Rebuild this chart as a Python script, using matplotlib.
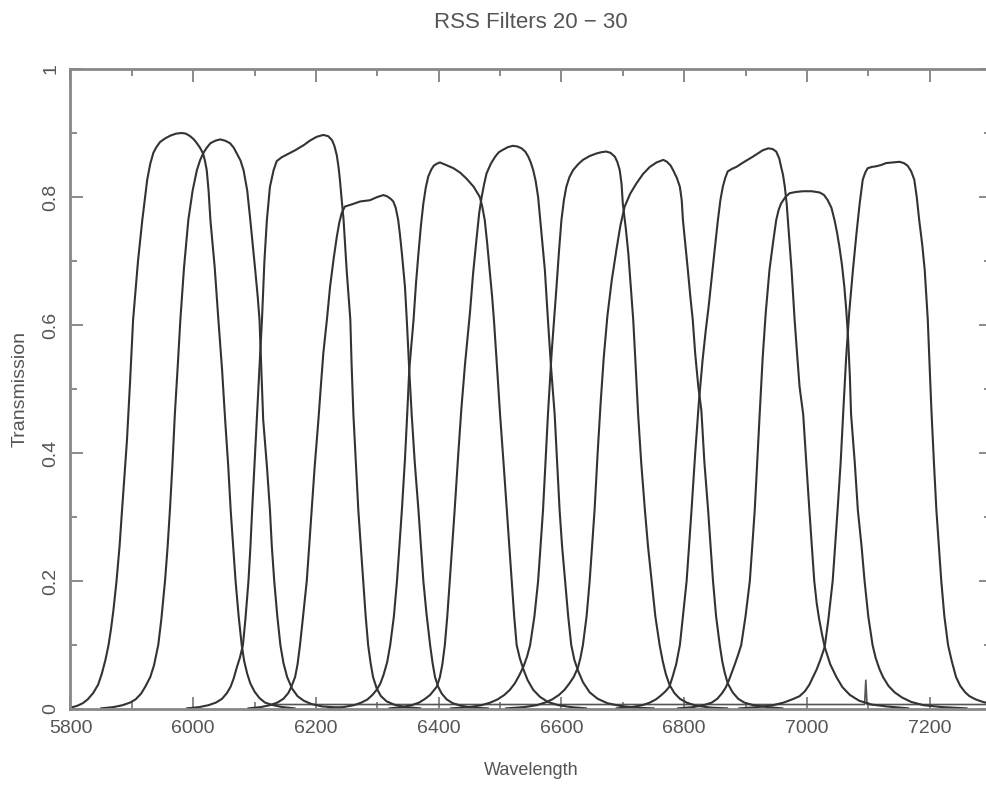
import matplotlib
matplotlib.use("Agg")
import matplotlib.pyplot as plt
from matplotlib.ticker import MultipleLocator

# transmission curves, filters 20 - 30
f20_wave = [5800, 5811, 5820, 5828, 5837, 5845, 5851, 5857, 5862, 5866, 5870, 5875, 5880, 5884,
            5888, 5892, 5897, 5902, 5910, 5917, 5925, 5930, 5935, 5940, 5946, 5955, 5963, 5972,
            5981, 5988, 5995, 6001, 6006, 6011, 6016, 6019, 6022, 6025, 6028, 6035, 6041, 6047,
            6052, 6057, 6061, 6065, 6069, 6074, 6079, 6083, 6088, 6093, 6100, 6108, 6117, 6130,
            6145, 6165]
f20_trans = [0.002, 0.005, 0.009, 0.015, 0.025, 0.038, 0.055, 0.077, 0.1, 0.125, 0.155, 0.2,
             0.255, 0.311, 0.365, 0.42, 0.51, 0.608, 0.70, 0.764, 0.827, 0.852, 0.869, 0.878,
             0.886, 0.892, 0.896, 0.899, 0.90, 0.899, 0.895, 0.89, 0.884, 0.877, 0.868, 0.857,
             0.842, 0.81, 0.764, 0.69, 0.608, 0.53, 0.452, 0.38, 0.311, 0.255, 0.2, 0.145, 0.1,
             0.075, 0.055, 0.04, 0.027, 0.017, 0.01, 0.006, 0.003, 0.001]

f21_wave = [5850, 5870, 5885, 5897, 5906, 5915, 5922, 5930, 5936, 5943, 5948, 5954, 5958, 5962,
            5966, 5970, 5975, 5979, 5985, 5992, 5999, 6006, 6011, 6016, 6022, 6028, 6036, 6044,
            6052, 6060, 6066, 6071, 6077, 6082, 6088, 6093, 6097, 6101, 6105, 6108, 6111, 6114,
            6120, 6125, 6128, 6132, 6137, 6142, 6147, 6153, 6161, 6170, 6180, 6192, 6210, 6240]
f21_trans = [0.001, 0.003, 0.006, 0.01, 0.015, 0.024, 0.035, 0.05, 0.068, 0.1, 0.14, 0.2, 0.25,
             0.311, 0.38, 0.46, 0.54, 0.608, 0.69, 0.764, 0.81, 0.842, 0.857, 0.868, 0.877, 0.884,
             0.888, 0.89, 0.888, 0.884, 0.877, 0.868, 0.857, 0.842, 0.81, 0.764, 0.725, 0.686,
             0.645, 0.608, 0.53, 0.452, 0.38, 0.311, 0.255, 0.2, 0.145, 0.1, 0.072, 0.05, 0.032,
             0.02, 0.013, 0.008, 0.004, 0.002]

f22_wave = [5990, 6010, 6025, 6037, 6047, 6055, 6061, 6066, 6071, 6076, 6081, 6085, 6090, 6093,
            6096, 6100, 6104, 6108, 6112, 6116, 6120, 6125, 6131, 6136, 6144, 6152, 6166, 6180,
            6190, 6201, 6212, 6220, 6226, 6230, 6234, 6237, 6239, 6242, 6245, 6250, 6256, 6258,
            6261, 6265, 6269, 6273, 6277, 6281, 6285, 6289, 6293, 6299, 6306, 6315, 6327, 6345,
            6370]
f22_trans = [0.001, 0.003, 0.006, 0.01, 0.016, 0.025, 0.035, 0.048, 0.065, 0.08, 0.1, 0.14,
             0.2, 0.25, 0.311, 0.385, 0.46, 0.535, 0.608, 0.70, 0.764, 0.816, 0.842, 0.856,
             0.862, 0.866, 0.873, 0.881, 0.888, 0.894, 0.897, 0.895, 0.889, 0.88, 0.865, 0.845,
             0.827, 0.795, 0.764, 0.686, 0.608, 0.54, 0.46, 0.385, 0.311, 0.255, 0.2, 0.145,
             0.1, 0.072, 0.05, 0.032, 0.02, 0.012, 0.007, 0.003, 0.001]

f23_wave = [6090, 6110, 6125, 6137, 6147, 6155, 6160, 6166, 6170, 6174, 6179, 6185, 6189, 6193,
            6198, 6204, 6208, 6212, 6218, 6223, 6229, 6234, 6238, 6242, 6247, 6260, 6272, 6288,
            6300, 6310, 6316, 6322, 6326, 6330, 6334, 6337, 6340, 6345, 6348, 6352, 6356, 6361,
            6367, 6371, 6375, 6380, 6386, 6390, 6394, 6399, 6405, 6413, 6423, 6437, 6455, 6480]
f23_trans = [0.001, 0.003, 0.006, 0.01, 0.016, 0.025, 0.035, 0.05, 0.07, 0.1, 0.145, 0.2,
             0.255, 0.311, 0.38, 0.452, 0.505, 0.556, 0.61, 0.66, 0.705, 0.738, 0.76, 0.775,
             0.785, 0.789, 0.793, 0.795, 0.80, 0.803, 0.801, 0.797, 0.793, 0.783, 0.764, 0.74,
             0.712, 0.66, 0.608, 0.53, 0.46, 0.385, 0.311, 0.255, 0.2, 0.15, 0.1, 0.072, 0.05,
             0.035, 0.024, 0.015, 0.009, 0.005, 0.002, 0.001]

f24_wave = [6220, 6245, 6262, 6274, 6284, 6292, 6299, 6305, 6310, 6316, 6321, 6327, 6332, 6336,
            6340, 6345, 6349, 6352, 6359, 6363, 6367, 6371, 6375, 6379, 6383, 6388, 6392, 6397,
            6402, 6412, 6424, 6435, 6445, 6457, 6467, 6471, 6475, 6479, 6483, 6487, 6490, 6495,
            6500, 6506, 6511, 6515, 6519, 6523, 6527, 6532, 6538, 6545, 6554, 6565, 6578, 6595,
            6615, 6640]
f24_trans = [0.001, 0.003, 0.006, 0.01, 0.015, 0.022, 0.03, 0.04, 0.053, 0.073, 0.1, 0.145,
             0.2, 0.255, 0.311, 0.39, 0.467, 0.53, 0.608, 0.665, 0.712, 0.755, 0.79, 0.815,
             0.832, 0.843, 0.849, 0.852, 0.854, 0.85, 0.845, 0.838, 0.829, 0.816, 0.80, 0.785,
             0.764, 0.728, 0.686, 0.645, 0.608, 0.535, 0.46, 0.38, 0.311, 0.255, 0.2, 0.145,
             0.1, 0.08, 0.062, 0.045, 0.03, 0.019, 0.011, 0.006, 0.003, 0.001]

f25_wave = [6320, 6340, 6356, 6368, 6378, 6386, 6392, 6397, 6402, 6406, 6410, 6414, 6418, 6422,
            6426, 6432, 6437, 6443, 6451, 6456, 6462, 6466, 6470, 6474, 6478, 6485, 6492, 6498,
            6505, 6513, 6521, 6528, 6535, 6541, 6546, 6550, 6554, 6558, 6562, 6568, 6573, 6578,
            6583, 6589, 6593, 6597, 6601, 6606, 6611, 6616, 6621, 6627, 6635, 6646, 6659, 6675,
            6695, 6720, 6750]
f25_trans = [0.001, 0.003, 0.006, 0.01, 0.016, 0.022, 0.029, 0.035, 0.05, 0.07, 0.1, 0.145,
             0.2, 0.255, 0.311, 0.40, 0.47, 0.54, 0.62, 0.68, 0.738, 0.775, 0.80, 0.82,
             0.837, 0.852, 0.863, 0.87, 0.874, 0.878, 0.88, 0.879, 0.876, 0.871, 0.863, 0.854,
             0.842, 0.825, 0.80, 0.738, 0.686, 0.608, 0.535, 0.46, 0.385, 0.311, 0.255, 0.2,
             0.145, 0.1, 0.077, 0.06, 0.042, 0.026, 0.016, 0.009, 0.005, 0.002, 0.001]

f26_wave = [6420, 6450, 6470, 6484, 6496, 6507, 6516, 6524, 6531, 6538, 6544, 6549, 6556, 6562,
            6566, 6570, 6574, 6578, 6584, 6592, 6596, 6600, 6604, 6608, 6613, 6619, 6627, 6635,
            6646, 6657, 6665, 6673, 6680, 6687, 6691, 6695, 6698, 6700, 6705, 6709, 6713, 6717,
            6721, 6725, 6730, 6736, 6741, 6747, 6753, 6760, 6765, 6770, 6776, 6784, 6793, 6804,
            6820, 6845, 6870]
f26_trans = [0.001, 0.003, 0.006, 0.01, 0.015, 0.022, 0.03, 0.04, 0.052, 0.066, 0.082, 0.1,
             0.145, 0.2, 0.255, 0.311, 0.385, 0.46, 0.556, 0.66, 0.715, 0.764, 0.795, 0.816,
             0.831, 0.842, 0.851, 0.858, 0.864, 0.868, 0.87, 0.871, 0.869, 0.863, 0.855, 0.842,
             0.82, 0.79, 0.75, 0.712, 0.66, 0.608, 0.535, 0.46, 0.385, 0.311, 0.255, 0.2, 0.145,
             0.1, 0.075, 0.055, 0.038, 0.025, 0.016, 0.01, 0.005, 0.002, 0.001]

f27_wave = [6510, 6540, 6560, 6573, 6585, 6596, 6605, 6613, 6620, 6627, 6631, 6635, 6641, 6646,
            6650, 6654, 6659, 6664, 6669, 6675, 6682, 6690, 6696, 6703, 6712, 6722, 6733, 6744,
            6755, 6766, 6772, 6778, 6782, 6788, 6793, 6796, 6798, 6802, 6806, 6810, 6814, 6818,
            6823, 6828, 6833, 6839, 6843, 6847, 6852, 6858, 6862, 6866, 6871, 6879, 6888, 6898,
            6913, 6935, 6960]
f27_trans = [0.001, 0.003, 0.006, 0.01, 0.015, 0.022, 0.03, 0.04, 0.05, 0.065, 0.08, 0.1, 0.145,
             0.2, 0.255, 0.311, 0.40, 0.48, 0.55, 0.615, 0.67, 0.72, 0.755, 0.785, 0.805,
             0.821, 0.836, 0.847, 0.854, 0.858, 0.855, 0.849, 0.842, 0.83, 0.816, 0.795, 0.764,
             0.725, 0.686, 0.645, 0.608, 0.555, 0.504, 0.467, 0.385, 0.311, 0.255, 0.2, 0.145,
             0.1, 0.075, 0.057, 0.04, 0.026, 0.016, 0.01, 0.006, 0.003, 0.001]

f28_wave = [6690, 6715, 6732, 6744, 6754, 6762, 6770, 6776, 6781, 6787, 6793, 6798, 6804, 6808,
            6812, 6818, 6824, 6830, 6835, 6840, 6845, 6850, 6855, 6859, 6863, 6867, 6871, 6878,
            6885, 6898, 6912, 6920, 6928, 6937, 6944, 6950, 6955, 6958, 6961, 6964, 6967, 6969,
            6975, 6980, 6984, 6988, 6994, 6999, 7004, 7008, 7012, 7016, 7020, 7025, 7029, 7038,
            7048, 7058, 7070, 7085, 7105, 7130, 7165]
f28_trans = [0.001, 0.003, 0.006, 0.01, 0.015, 0.021, 0.028, 0.035, 0.05, 0.07, 0.1, 0.145,
             0.2, 0.255, 0.311, 0.40, 0.48, 0.545, 0.59, 0.63, 0.675, 0.72, 0.764, 0.795, 0.816,
             0.83, 0.84, 0.844, 0.847, 0.855, 0.863, 0.868, 0.873, 0.876, 0.875, 0.871, 0.86,
             0.847, 0.835, 0.816, 0.79, 0.764, 0.686, 0.608, 0.555, 0.504, 0.46, 0.385, 0.311,
             0.255, 0.2, 0.165, 0.14, 0.115, 0.097, 0.07, 0.05, 0.034, 0.022, 0.013, 0.007,
             0.004, 0.001]

f29_wave = [6790, 6815, 6832, 6845, 6854, 6862, 6868, 6873, 6878, 6883, 6888, 6893, 6900, 6907,
            6911, 6915, 6919, 6923, 6928, 6933, 6939, 6945, 6950, 6954, 6958, 6965, 6972, 6983,
            6994, 7008, 7021, 7028, 7034, 7040, 7045, 7049, 7053, 7057, 7061, 7064, 7067, 7070,
            7072, 7078, 7083, 7089, 7094, 7100, 7107, 7112, 7118, 7124, 7133, 7143, 7155, 7170,
            7190, 7220, 7260]
f29_trans = [0.001, 0.003, 0.006, 0.01, 0.016, 0.025, 0.034, 0.045, 0.058, 0.071, 0.085, 0.1,
             0.145, 0.2, 0.255, 0.311, 0.385, 0.46, 0.55, 0.62, 0.686, 0.73, 0.764, 0.78,
             0.79, 0.80, 0.806, 0.808, 0.809, 0.809, 0.807, 0.803, 0.795, 0.783, 0.764, 0.745,
             0.722, 0.695, 0.66, 0.625, 0.582, 0.52, 0.46, 0.385, 0.311, 0.255, 0.2, 0.145, 0.1,
             0.08, 0.063, 0.05, 0.036, 0.026, 0.018, 0.011, 0.006, 0.003, 0.001]

f30_wave = [6890, 6920, 6945, 6962, 6976, 6988, 6997, 7004, 7010, 7016, 7022, 7029, 7035, 7042,
            7046, 7050, 7055, 7059, 7064, 7069, 7075, 7081, 7086, 7091, 7095, 7099, 7106, 7113,
            7121, 7129, 7140, 7151, 7158, 7164, 7170, 7175, 7179, 7183, 7188, 7192, 7197, 7200,
            7203, 7207, 7211, 7215, 7219, 7224, 7230, 7236, 7243, 7250, 7258, 7265, 7275, 7287,
            7300]
f30_trans = [0.001, 0.003, 0.006, 0.01, 0.015, 0.02, 0.028, 0.038, 0.05, 0.062, 0.077, 0.097,
             0.14, 0.2, 0.255, 0.311, 0.385, 0.46, 0.55, 0.62, 0.686, 0.745, 0.79, 0.827,
             0.838, 0.845, 0.847, 0.848, 0.85, 0.853, 0.854, 0.855, 0.853, 0.849, 0.84, 0.827,
             0.80, 0.764, 0.725, 0.686, 0.608, 0.535, 0.465, 0.385, 0.311, 0.255, 0.2, 0.145,
             0.1, 0.075, 0.05, 0.036, 0.026, 0.02, 0.015, 0.011, 0.008]

# flat residual level along the bottom, with the glitch near 7096
base_wave = [6130, 7094, 7096, 7098, 7300]
base_trans = [0.007, 0.007, 0.045, 0.007, 0.007]

waves = [f20_wave, f21_wave, f22_wave, f23_wave, f24_wave, f25_wave,
         f26_wave, f27_wave, f28_wave, f29_wave, f30_wave]
trans = [f20_trans, f21_trans, f22_trans, f23_trans, f24_trans, f25_trans,
         f26_trans, f27_trans, f28_trans, f29_trans, f30_trans]

plt.rcParams['font.family'] = ['Liberation Sans', 'DejaVu Sans']

fig = plt.figure(figsize=(9.87, 7.87), dpi=100)
ax = fig.add_axes([70.5 / 987, 78 / 787, 920.5 / 987, 640 / 787])

ax.plot(base_wave, base_trans, color='#555555', lw=1.2)
for w, t in zip(waves, trans):
    ax.plot(w, t, color='#333333', lw=1.5)

ax.set_xlim(5800, 7300)
ax.set_ylim(0, 1)

ax.xaxis.set_major_locator(MultipleLocator(200))
ax.xaxis.set_minor_locator(MultipleLocator(100))
ax.yaxis.set_minor_locator(MultipleLocator(0.1))
ax.set_yticks([0, 0.2, 0.4, 0.6, 0.8, 1.0])
ax.set_yticklabels(['0', '0.2', '0.4', '0.6', '0.8', '1'])

ax.tick_params(which='both', direction='in', top=True, right=True, color='#777777',
               labelcolor='#555555', labelsize=14)
ax.tick_params(which='major', length=9, width=1.2)
ax.tick_params(which='minor', length=5, width=1.2)
ax.tick_params(axis='x', pad=8)
ax.tick_params(axis='y', pad=8)
for lab in ax.get_yticklabels():
    lab.set_rotation(90)
    lab.set_va('center')

for s in ax.spines.values():
    s.set_color('#888888')
    s.set_linewidth(2)

ax.set_xlabel('Wavelength', fontsize=13, color='#555555')
ax.xaxis.set_label_coords(0.5, -0.083)
ax.set_ylabel('Transmission', fontsize=14, color='#555555')
ax.yaxis.set_label_coords(-0.046, 0.5)
ax.text(0.5, 1.073, 'RSS Filters 20 \u2212 30', transform=ax.transAxes, ha='center',
        va='center', fontsize=16, color='#555555')

fig.savefig('out.png', dpi=100)
